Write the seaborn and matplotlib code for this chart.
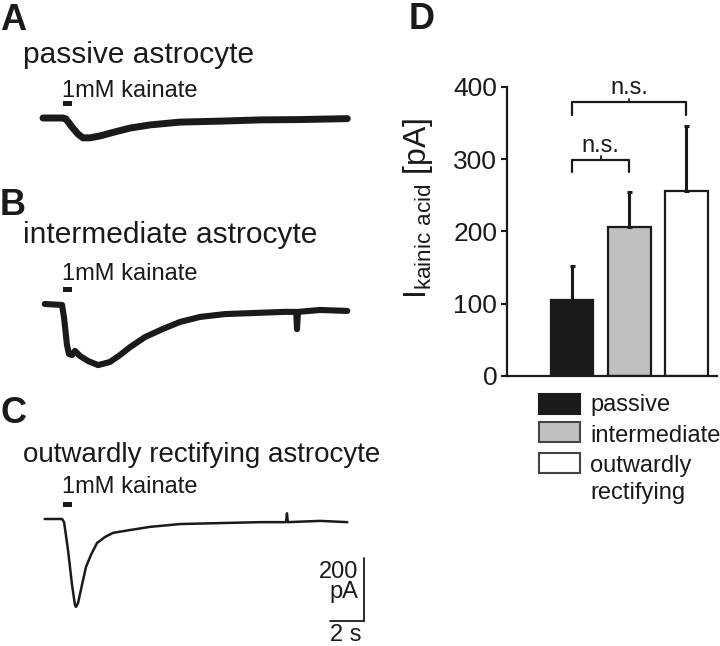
import numpy as np
import pandas as pd
import matplotlib
matplotlib.use("Agg")
import matplotlib.pyplot as plt
from matplotlib.patches import Rectangle
import seaborn as sns

# ---------------------------------------------------------
# Data
# ---------------------------------------------------------

# trace A : passive astrocyte (time in s, current in pA)
passive_t = [0.0, 1.18, 1.35, 1.71, 2.06, 2.35, 2.76, 3.35, 4.24, 5.12,
             6.29, 8.06, 10.4, 12.8, 15.1, 17.9]
passive_i = [0, 0, -3, -29, -51, -63, -63, -57, -44, -32,
             -22, -13, -10, -6, -5, -2]

# trace B : intermediate astrocyte
inter_t = [0.1, 1.12, 1.24, 1.41, 1.53, 1.71, 1.88, 2.18, 2.65, 3.24,
           3.94, 4.53, 5.12, 6.0, 7.06, 8.06, 9.24, 10.7, 12.2, 14.2,
           14.9, 14.94, 15.0, 16.3, 17.9]
inter_i = [0, -3, -44, -130, -159, -162, -149, -165, -181, -194,
           -184, -162, -137, -105, -79, -57, -41, -32, -29, -25,
           -25, -80, -25, -19, -22]

# trace C : outwardly rectifying astrocyte
outward_t = [0.1, 1.12, 1.24, 1.47, 1.71, 1.88, 1.94, 2.06, 2.29, 2.53,
             2.82, 3.18, 3.65, 4.12, 5.12, 6.29, 8.06, 10.4, 12.8, 14.3,
             14.35, 14.4, 16.3, 17.9]
outward_i = [0, 0, -10, -98, -210, -273, -279, -267, -210, -152,
             -114, -76, -57, -44, -35, -25, -16, -13, -10, -10,
             18, -10, -6, -10]

stim_on, stim_off = 1.15, 1.7
stim_lo, stim_hi = 38, 54

scale_pa = 200
scale_s = 2

# panel D : mean kainate current
categories = ["passive", "intermediate", "outwardly\nrectifying"]
means = [105, 206, 256]
errors = [47, 48, 90]
bar_colors = ["#1a1a1a", "#c0c0c0", "#ffffff"]
y_ticks = [0, 100, 200, 300, 400]

# ---------------------------------------------------------
# Figure setup
# ---------------------------------------------------------

sns.set_theme(style="white")
plt.rcParams["font.family"] = ["Liberation Sans", "DejaVu Sans"]
plt.rcParams["mathtext.default"] = "regular"

W, H = 720, 646
fig = plt.figure(figsize=(W / 100, H / 100), dpi=100)

INK = "#1a1a1a"
PX_PER_S = 17.0
PX_PER_PA = 0.315


def fx(x):
    return x / W


def fy(y):
    return 1 - y / H


def trace_axes(x0_px, base_px, t_lim, i_lim):
    left = x0_px + t_lim[0] * PX_PER_S
    width = (t_lim[1] - t_lim[0]) * PX_PER_S
    bottom_px = base_px - i_lim[0] * PX_PER_PA
    height = (i_lim[1] - i_lim[0]) * PX_PER_PA
    ax = fig.add_axes([fx(left), fy(bottom_px), width / W, height / H])
    ax.set_xlim(*t_lim)
    ax.set_ylim(*i_lim)
    ax.axis("off")
    return ax


traces = [
    ("A", "passive astrocyte", 21.5, passive_t, passive_i, 118, 5.0,
     30, 63, 97),
    ("B", "intermediate astrocyte", 21.5, inter_t, inter_i, 304, 4.4,
     215, 243, 280),
    ("C", "outwardly rectifying astrocyte", 20, outward_t, outward_i, 519,
     1.8, 423, 462, 493),
]

for (letter, title, title_size, t, i, base, lw,
     let_y, title_y, kain_y) in traces:

    ax = trace_axes(43, base, (-0.5, 20.0), (-340, 70))

    sns.lineplot(x=t, y=i, ax=ax, color=INK, linewidth=lw,
                 estimator=None, legend=False)

    ax.fill_between([stim_on, stim_off], stim_lo, stim_hi,
                    color=INK, linewidth=0)

    fig.text(fx(0), fy(let_y), letter, fontsize=26, fontweight="bold",
             color=INK, va="baseline", ha="left")
    fig.text(fx(23), fy(title_y), title, fontsize=title_size, color=INK,
             va="baseline", ha="left")
    fig.text(fx(62), fy(kain_y), "1mM kainate", fontsize=17, color=INK,
             va="baseline", ha="left")

    if letter == "C":
        t_end = (364 - 43) / PX_PER_S
        i_low = -(621 - base) / PX_PER_PA
        ax.plot([t_end, t_end], [i_low, i_low + scale_pa],
                color=INK, linewidth=1.3, clip_on=False)
        ax.plot([t_end - scale_s, t_end], [i_low, i_low],
                color=INK, linewidth=1.3, clip_on=False)

fig.text(fx(358), fy(578), "200", fontsize=17, color=INK,
         ha="right", va="baseline")
fig.text(fx(358), fy(598), "pA", fontsize=17, color=INK,
         ha="right", va="baseline")
fig.text(fx(346), fy(641), "2 s", fontsize=17, color=INK,
         ha="center", va="baseline")

# ---------------------------------------------------------
# Panel D : bar chart
# ---------------------------------------------------------

ax_d = fig.add_axes([fx(507), fy(376), 210 / W, 289 / H])

df = pd.DataFrame({"group": categories, "current": means})

sns.barplot(data=df, x="group", y="current", hue="group",
            palette=bar_colors, legend=False, width=0.75,
            edgecolor=INK, linewidth=1.6, ax=ax_d)

ax_d.errorbar(range(len(means)), means,
              yerr=[np.zeros(len(errors)), errors],
              fmt="none", ecolor=INK, elinewidth=2.2,
              capsize=1.8, capthick=2.2, zorder=1)

ax_d.set_xlim(-1.14, 2.54)
ax_d.set_ylim(0, 400)
ax_d.set_yticks(y_ticks)
ax_d.set_xticks([])
ax_d.set_xlabel("")
ax_d.set_ylabel("I$_{kainic\\ acid}$ [pA]", fontsize=23, color=INK)
ax_d.yaxis.set_label_coords(-0.345, 0.58)

ax_d.tick_params(axis="y", direction="out", length=4, width=1.5,
                 labelsize=19, colors=INK, pad=3, left=True)

for side in ["top", "right"]:
    ax_d.spines[side].set_visible(False)

for side in ["left", "bottom"]:
    ax_d.spines[side].set_color(INK)
    ax_d.spines[side].set_linewidth(1.6)

# significance brackets
brackets = [(0, 2, 379, 361), (0, 1, 299, 282)]

for a, b, top, arm in brackets:
    ax_d.plot([a, a, b, b], [arm, top, top, arm],
              color=INK, linewidth=1.6, clip_on=False)
    mid = (a + b) / 2
    ax_d.plot([mid, mid], [top, top + 5], color=INK,
              linewidth=1.3, clip_on=False)
    ax_d.text(mid, top + 11, "n.s.", fontsize=17, color=INK,
              ha="center", va="baseline")

# legend drawn by hand so the two-line label lines up like the original
legend_rows = [(394, 411), (422, 442), (453, 472)]

for (box_top, base_y), label, color in zip(legend_rows, categories,
                                           bar_colors):
    fig.patches.append(
        Rectangle((fx(539), fy(box_top + 20)), 41 / W, 20 / H,
                  transform=fig.transFigure, facecolor=color,
                  edgecolor="#444444" if color != INK else INK,
                  linewidth=1.5)
    )
    fig.text(fx(590), fy(base_y), label.split("\n")[0], fontsize=17,
             color=INK, va="baseline", ha="left")
    if "\n" in label:
        fig.text(fx(590), fy(base_y + 27), label.split("\n")[1],
                 fontsize=17, color=INK, va="baseline", ha="left")

fig.text(fx(409), fy(29), "D", fontsize=26, fontweight="bold",
         color=INK, va="baseline", ha="left")

fig.savefig("out.png", dpi=100)
